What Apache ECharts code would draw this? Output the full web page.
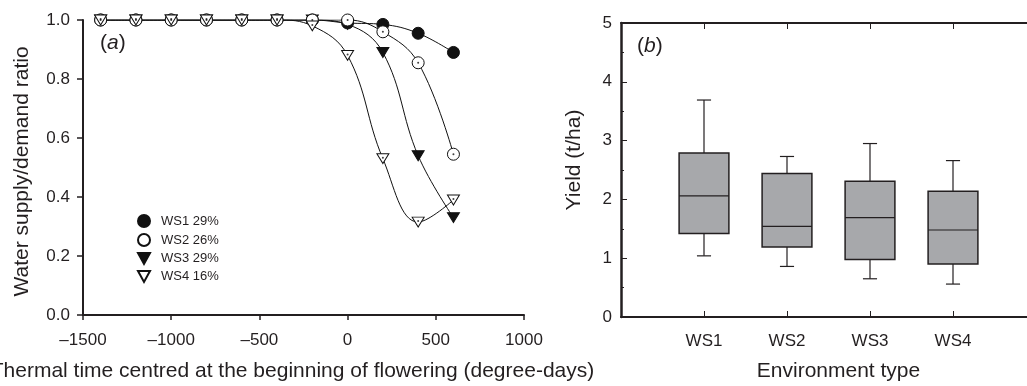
<!DOCTYPE html>
<html>
<head>
<meta charset="utf-8">
<script src="https://cdn.jsdelivr.net/npm/echarts@6/dist/echarts.min.js"></script>
<style>html,body{margin:0;padding:0;background:#fff}#c{width:1027px;height:386px}</style>
</head>
<body>
<div id="c"></div>
<script>
// ---- Panel (a) data ----
const thermalTime = [-1400, -1200, -1000, -800, -600, -400, -200, 0, 200, 400, 600];
const ws1 = [1, 1, 1, 1, 1, 1, 1.0, 0.99, 0.985, 0.955, 0.89];
const ws2 = [1, 1, 1, 1, 1, 1, 1.0, 1.0, 0.96, 0.855, 0.545];
const ws3 = [1, 1, 1, 1, 1, 1, 1.0, 0.985, 0.89, 0.54, 0.33];
const ws4 = [1, 1, 1, 1, 1, 1, 0.98, 0.88, 0.53, 0.315, 0.39];
const seriesNames = ['WS1 29%', 'WS2 26%', 'WS3 29%', 'WS4 16%'];
const xTicksA = [-1500, -1000, -500, 0, 500, 1000];
const yTicksA = [0.0, 0.2, 0.4, 0.6, 0.8, 1.0];

// ---- Panel (b) data ----
const boxCats = ['WS1', 'WS2', 'WS3', 'WS4'];
const boxLow  = [1.04, 0.86, 0.65, 0.56];
const boxQ1   = [1.42, 1.19, 0.98, 0.90];
const boxMed  = [2.06, 1.54, 1.69, 1.48];
const boxQ3   = [2.79, 2.44, 2.31, 2.14];
const boxHigh = [3.69, 2.73, 2.95, 2.66];
const yTicksB = [0, 1, 2, 3, 4, 5];

const FONT = "'Liberation Sans', Arial, Helvetica, sans-serif";
const INK = '#231f20';
const DOWN_TRI = 'path://M0,0L10,0L5,9Z';

const pairs = arr => thermalTime.map((t, i) => [t, arr[i]]);
const seriesData = [ws1, ws2, ws3, ws4];
const symbols = ['circle', 'circle', DOWN_TRI, DOWN_TRI];
const filled = [true, false, true, false];

const lineSeries = seriesData.map((arr, k) => ({
  name: seriesNames[k],
  type: 'line',
  xAxisIndex: 0, yAxisIndex: 0,
  data: pairs(arr),
  smooth: 0.4,
  symbol: symbols[k],
  symbolSize: symbols[k] === 'circle' ? 12 : [12, 11],
  symbolKeepAspect: true,
  showAllSymbol: true,
  lineStyle: { color: '#111', width: 1 },
  itemStyle: { color: filled[k] ? '#111' : '#fff', borderColor: '#111', borderWidth: 1 },
  z: 3 + (filled[k] ? 0 : 1),
  emphasis: { disabled: true },
  animation: false
}));

// small centre dots of the hollow markers
const dotSeries = [1, 3].map(k => ({
  type: 'scatter',
  xAxisIndex: 0, yAxisIndex: 0,
  data: pairs(seriesData[k]),
  symbol: 'circle',
  symbolSize: 2,
  symbolOffset: k === 3 ? [0, -1] : [0, 0],
  itemStyle: { color: '#111' },
  z: 6,
  silent: true,
  animation: false
}));

const boxData = boxCats.map((c, i) => [i + 1, boxLow[i], boxQ1[i], boxMed[i], boxQ3[i], boxHigh[i]]);

const boxSeries = {
  type: 'custom',
  xAxisIndex: 1, yAxisIndex: 1,
  data: boxData,
  encode: { x: 0, y: [1, 2, 3, 4, 5] },
  renderItem: function (params, api) {
    const x = api.value(0);
    const c = v => api.coord([x, v]);
    const pLow = c(api.value(1)), pQ1 = c(api.value(2)), pMed = c(api.value(3)),
          pQ3 = c(api.value(4)), pHigh = c(api.value(5));
    const px = pLow[0];
    const w = api.size([0.6, 0])[0];
    const cw = api.size([0.17, 0])[0];
    const st = { stroke: INK, lineWidth: 1.2, fill: null };
    return {
      type: 'group',
      children: [
        { type: 'line', shape: { x1: px, y1: pHigh[1], x2: px, y2: pQ3[1] }, style: st },
        { type: 'line', shape: { x1: px, y1: pQ1[1], x2: px, y2: pLow[1] }, style: st },
        { type: 'line', shape: { x1: px - cw / 2, y1: pHigh[1], x2: px + cw / 2, y2: pHigh[1] }, style: st },
        { type: 'line', shape: { x1: px - cw / 2, y1: pLow[1], x2: px + cw / 2, y2: pLow[1] }, style: st },
        { type: 'rect', shape: { x: px - w / 2, y: pQ3[1], width: w, height: pQ1[1] - pQ3[1] },
          style: { fill: '#a7a8ab', stroke: INK, lineWidth: 1.5 } },
        { type: 'line', shape: { x1: px - w / 2, y1: pMed[1], x2: px + w / 2, y2: pMed[1] }, style: st }
      ]
    };
  },
  animation: false
};

const axisLabelStyle = { color: INK, fontSize: 17, fontFamily: FONT };
const nameStyle = { color: INK, fontSize: 21, fontFamily: FONT };

const option = {
  backgroundColor: '#fff',
  animation: false,
  grid: [
    { left: 83, top: 20, width: 441, height: 295, containLabel: false, outerBoundsMode: 'none' },
    { left: 621, top: 23, width: 415, height: 294, containLabel: false, outerBoundsMode: 'none' }
  ],
  legend: {
    data: seriesNames.map((n, k) => ({ name: n, icon: symbols[k] })),
    orient: 'vertical',
    left: 132, top: 209,
    itemWidth: 12, itemHeight: 12, itemGap: 5,
    selectedMode: false,
    textStyle: { color: INK, fontSize: 13, fontFamily: FONT, padding: [0, 0, 0, 6] }
  },
  xAxis: [
    {
      gridIndex: 0, type: 'value', min: xTicksA[0], max: xTicksA[xTicksA.length - 1], interval: 500,
      name: 'Thermal time centred at the beginning of flowering (degree-days)',
      nameLocation: 'middle', nameGap: 46,
      nameTextStyle: Object.assign({}, nameStyle, { padding: [0, 22, 0, 0] }),
      axisLine: { show: true, onZero: false, lineStyle: { color: INK, width: 2 } },
      axisTick: { show: true, inside: false, length: 5, lineStyle: { color: INK, width: 1.5 } },
      axisLabel: Object.assign({}, axisLabelStyle, { margin: 17, formatter: v => String(v).replace('-', '\u2013') }),
      splitLine: { show: false }
    },
    {
      gridIndex: 1, type: 'value', min: 0, max: 5, interval: 1,
      name: 'Environment type',
      nameLocation: 'middle', nameGap: 44,
      nameTextStyle: Object.assign({}, nameStyle, { padding: [0, 0, 0, 20] }),
      axisLine: { show: true, onZero: false, lineStyle: { color: INK, width: 2 } },
      axisTick: { show: true, inside: true, length: 6, lineStyle: { color: INK, width: 1 } },
      axisLabel: Object.assign({}, axisLabelStyle, { margin: 16, formatter: v => boxCats[v - 1] || '' }),
      splitLine: { show: false }
    },
    {
      gridIndex: 1, type: 'value', min: 0, max: 5, interval: 1, position: 'top',
      axisLine: { show: true, onZero: false, lineStyle: { color: INK, width: 2 } },
      axisTick: { show: true, inside: true, length: 6, lineStyle: { color: INK, width: 1 } },
      axisLabel: { show: false },
      splitLine: { show: false }
    }
  ],
  yAxis: [
    {
      gridIndex: 0, type: 'value', min: yTicksA[0], max: yTicksA[yTicksA.length - 1], interval: 0.2,
      name: 'Water supply/demand ratio',
      nameLocation: 'middle', nameGap: 50,
      nameTextStyle: Object.assign({}, nameStyle, { padding: [0, 8, 0, 0] }),
      axisLine: { show: true, onZero: false, lineStyle: { color: INK, width: 2 } },
      axisTick: { show: true, inside: false, length: 6, lineStyle: { color: INK, width: 1.5 } },
      axisLabel: Object.assign({}, axisLabelStyle, { margin: 13, formatter: v => v.toFixed(1) }),
      splitLine: { show: false }
    },
    {
      gridIndex: 1, type: 'value', min: yTicksB[0], max: yTicksB[yTicksB.length - 1], interval: 1,
      name: 'Yield (t/ha)',
      nameLocation: 'middle', nameGap: 36,
      nameTextStyle: Object.assign({}, nameStyle, { padding: [0, 0, 0, 20] }),
      axisLine: { show: true, onZero: false, lineStyle: { color: INK, width: 2.5 } },
      axisTick: { show: true, inside: true, length: 6, lineStyle: { color: INK, width: 1 } },
      minorTick: { show: true, splitNumber: 2, length: 3, lineStyle: { color: INK, width: 1 } },
      axisLabel: Object.assign({}, axisLabelStyle, { margin: 9 }),
      splitLine: { show: false }
    }
  ],
  graphic: [
    { type: 'text', left: 100, top: 33,
      style: { text: '({i|a})', rich: { i: { fontStyle: 'italic', fontSize: 21, fontFamily: FONT, fill: INK } },
               fontSize: 21, fontFamily: FONT, fill: INK } },
    { type: 'text', left: 637, top: 36,
      style: { text: '({i|b})', rich: { i: { fontStyle: 'italic', fontSize: 21, fontFamily: FONT, fill: INK } },
               fontSize: 21, fontFamily: FONT, fill: INK } }
  ],
  series: lineSeries.concat(dotSeries, [boxSeries])
};

const chart = echarts.init(document.getElementById('c'), null, { renderer: 'canvas' });
chart.setOption(option);
</script>
</body>
</html>
